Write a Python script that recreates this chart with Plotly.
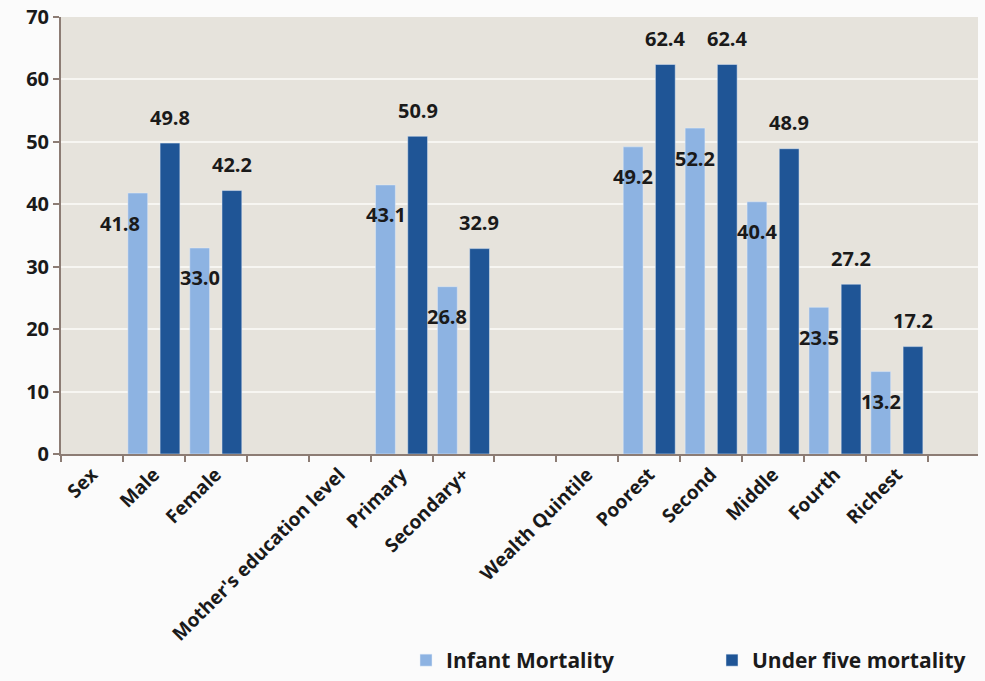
import plotly.graph_objects as go

categories = ["Sex", "Male", "Female", "\u200b", "Mother's education level", "Primary",
              "Secondary+", "\u200b\u200b", "Wealth Quintile", "Poorest", "Second",
              "Middle", "Fourth", "Richest"]
infant = [None, 41.8, 33.0, None, None, 43.1, 26.8, None, None, 49.2, 52.2, 40.4, 23.5, 13.2]
under5 = [None, 49.8, 42.2, None, None, 50.9, 32.9, None, None, 62.4, 62.4, 48.9, 27.2, 17.2]
series_names = ["Infant Mortality", "Under five mortality"]
y_ticks = [0, 10, 20, 30, 40, 50, 60, 70]

LIGHT = "#8db3e2"
DARK = "#1f5596"
FONT = "Open Sans"
TXT = "#1a1a1a"
W, H = 985, 681

fig = go.Figure()
fig.add_trace(go.Bar(x=categories, y=infant, name=series_names[0], marker_color=LIGHT,
                     width=0.32, offset=-0.42, hoverinfo="x+y", legend="legend"))
fig.add_trace(go.Bar(x=categories, y=under5, name=series_names[1], marker_color=DARK,
                     width=0.32, offset=0.10, hoverinfo="x+y", legend="legend2"))

annos = []
for c, v in zip(categories, infant):
    if v is None:
        continue
    xs = -16 - (18 if c == "Male" else 0)
    annos.append(dict(x=c, y=v, xref="x", yref="y", text=f"{v:.1f}", showarrow=False,
                      xshift=xs, yshift=-30,
                      font=dict(family=FONT, size=20, color=TXT, weight="bold")))
for c, v in zip(categories, under5):
    if v is None:
        continue
    annos.append(dict(x=c, y=v, xref="x", yref="y", text=f"{v:.1f}", showarrow=False,
                      xshift=16, yshift=26,
                      font=dict(family=FONT, size=20, color=TXT, weight="bold")))

legfont = dict(family=FONT, size=21, color=TXT, weight="bold")
fig.update_layout(
    width=W, height=H,
    margin=dict(l=61, r=7, t=17, b=227),
    paper_bgcolor="#fbfbfb",
    plot_bgcolor="#e6e3dc",
    barmode="group",
    annotations=annos,
    font=dict(family=FONT, color=TXT),
    showlegend=True,
    legend=dict(orientation="h", x=406 / W, y=0.0, xref="container", yref="container",
                xanchor="left", yanchor="bottom", font=legfont, bgcolor="rgba(0,0,0,0)",
                itemclick=False),
    legend2=dict(orientation="h", x=712 / W, y=0.0, xref="container", yref="container",
                 xanchor="left", yanchor="bottom", font=legfont, bgcolor="rgba(0,0,0,0)",
                 itemclick=False),
)
fig.update_xaxes(
    type="category", categoryorder="array", categoryarray=categories,
    range=[-0.5, 14.31], tickson="boundaries", ticks="outside", ticklen=6,
    tickcolor="#8c7c74", tickwidth=2, showline=True, linecolor="#8c7c74", linewidth=2,
    showgrid=False, tickangle=-45, automargin=False,
    tickfont=dict(family=FONT, size=19, color=TXT, weight="bold"),
)
fig.update_yaxes(
    range=[0, 70], tickvals=y_ticks, ticks="outside", ticklen=6, tickcolor="#8c7c74",
    tickwidth=2, showline=True, linecolor="#8c7c74", linewidth=2, showgrid=True,
    gridcolor="#f7f6f2", gridwidth=2, zeroline=False, automargin=False,
    tickfont=dict(family=FONT, size=20, color=TXT, weight="bold"),
)

fig.write_html("out.html", config={"displayModeBar": False},
               post_script="document.body.style.margin='0';document.body.style.background='#fbfbfb';")
